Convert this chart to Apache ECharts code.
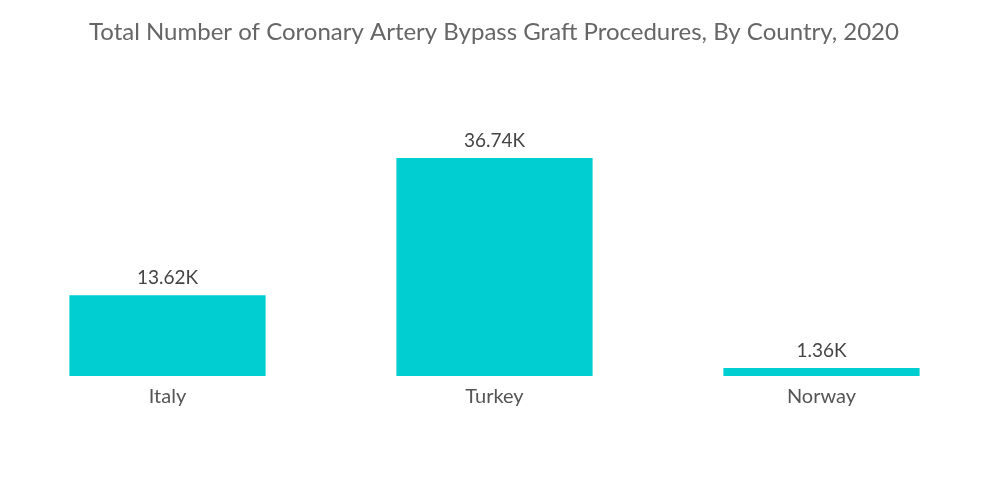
<!DOCTYPE html>
<html><head><meta charset="utf-8">
<script src="https://cdn.jsdelivr.net/npm/echarts@6/dist/echarts.min.js"></script>
<style>html,body{margin:0;padding:0;background:#fff}#c{width:1000px;height:504px}</style>
</head><body><div id="c"></div>
<script>
const categories = ["Italy", "Turkey", "Norway"];
const values = [13.62, 36.74, 1.36];
const labels = ["13.62K", "36.74K", "1.36K"];
const chart = echarts.init(document.getElementById('c'));
chart.setOption({
  animation: false,
  title: {
    text: "Total Number of Coronary Artery Bypass Graft Procedures, By Country, 2020",
    left: 494, top: 15, textAlign: 'center',
    textStyle: {fontFamily: 'Lato', fontSize: 24, fontWeight: 'normal', color: '#666'}
  },
  grid: {left: 4, right: 15, top: 158, bottom: 128},
  xAxis: {
    type: 'category', data: categories,
    axisLine: {show: false}, axisTick: {show: false},
    axisLabel: {fontFamily: 'Lato', fontSize: 20, color: '#555', margin: 11}
  },
  yAxis: {type: 'value', min: 0, max: 36.74, show: false, splitLine: {show: false}},
  series: [{
    type: 'bar', data: values, barWidth: '60%',
    itemStyle: {color: '#00ced1'},
    label: {
      show: true, position: 'top', distance: 8,
      fontFamily: 'Lato', fontSize: 19, color: '#444',
      formatter: p => labels[p.dataIndex]
    }
  }]
});
chart.setOption({title: {left: 489}});
</script></body></html>
